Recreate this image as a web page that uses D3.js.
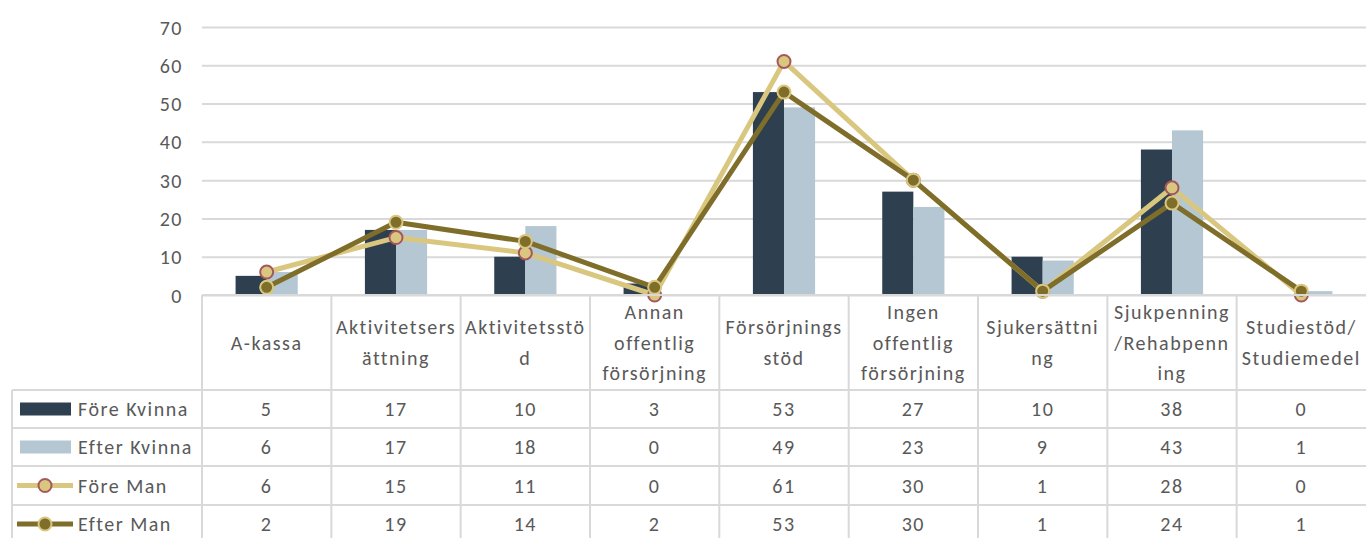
<!DOCTYPE html>
<html>
<head>
<meta charset="utf-8">
<script src="https://cdn.jsdelivr.net/npm/d3@7"></script>
<style>
  body { margin: 0; background: #fff; }
  svg text { font-family: Carlito, Calibri, Lato, sans-serif; fill: #595959; letter-spacing: 1.5px; }
</style>
</head>
<body>
<div id="chart"></div>
<script>
// Data
const categories = ["A-kassa", "Aktivitetsersättning", "Aktivitetsstöd",
  "Annan offentlig försörjning", "Försörjningsstöd", "Ingen offentlig försörjning",
  "Sjukersättning", "Sjukpenning/Rehabpenning", "Studiestöd/Studiemedel"];
// how the header cells wrap in the original
const catLines = [["A-kassa"], ["Aktivitetsers", "ättning"], ["Aktivitetsstö", "d"],
  ["Annan", "offentlig", "försörjning"], ["Försörjnings", "stöd"],
  ["Ingen", "offentlig", "försörjning"], ["Sjukersättni", "ng"],
  ["Sjukpenning", "/Rehabpenn", "ing"], ["Studiestöd/", "Studiemedel"]];
const foreKvinna = [5, 17, 10, 3, 53, 27, 10, 38, 0];
const efterKvinna = [6, 17, 18, 0, 49, 23, 9, 43, 1];
const foreMan = [6, 15, 11, 0, 61, 30, 1, 28, 0];
const efterMan = [2, 19, 14, 2, 53, 30, 1, 24, 1];
const yTicks = [0, 10, 20, 30, 40, 50, 60, 70];

const series = [
  {name: "Före Kvinna", values: foreKvinna, type: "bar", color: "#2e3f4f"},
  {name: "Efter Kvinna", values: efterKvinna, type: "bar", color: "#b4c7d3"},
  {name: "Före Man", values: foreMan, type: "line", color: "#dac77f", marker: "#dac77f", markerStroke: "#a5585c"},
  {name: "Efter Man", values: efterMan, type: "line", color: "#7f6e2a", marker: "#7f6e2a", markerStroke: "#dac77f"},
];

const W = 1366, H = 538;
const plotLeft = 202, plotRight = 1366, plotTop = 27, plotBottom = 295;
const rowY = [295, 390, 428, 466, 505, 543];
const grid = "#d9d9d9";
const fs = "20px";

const svg = d3.select("#chart").append("svg")
  .attr("width", W).attr("height", H);

const x = d3.scaleBand().domain(categories).range([plotLeft, plotRight]);
const xBar = d3.scaleBand().domain(["Före Kvinna", "Efter Kvinna"])
  .range([0, x.bandwidth()]).paddingInner(0).paddingOuter(1.08);
const y = d3.scaleLinear().domain([0, 70]).range([plotBottom, plotTop]);

// Y axis + gridlines
const yAxis = d3.axisLeft(y).tickValues(yTicks)
  .tickSize(-(plotRight - plotLeft)).tickPadding(19);
const gy = svg.append("g").attr("transform", "translate(" + plotLeft + ",0)").call(yAxis);
gy.select(".domain").remove();
gy.selectAll(".tick line").attr("stroke", grid).attr("stroke-width", 2);
gy.selectAll(".tick text").style("font-size", fs).attr("fill", "#595959").attr("dy", "0.35em");

// Bars
series.filter(function(s) { return s.type === "bar"; }).forEach(function(s) {
  svg.append("g").selectAll("rect")
    .data(s.values)
    .enter()
    .append("rect")
    .attr("x", function(d, i) { return x(categories[i]) + xBar(s.name); })
    .attr("y", function(d) { return y(d); })
    .attr("width", xBar.bandwidth())
    .attr("height", function(d) { return y(0) - y(d); })
    .attr("fill", s.color);
});

// Lines
const cx = function(i) { return x(categories[i]) + x.bandwidth() / 2; };
series.filter(function(s) { return s.type === "line"; }).forEach(function(s) {
  const line = d3.line()
    .x(function(d, i) { return cx(i); })
    .y(function(d) { return y(d); });
  svg.append("path")
    .datum(s.values)
    .attr("d", line)
    .attr("fill", "none")
    .attr("stroke", s.color)
    .attr("stroke-width", 5)
    .attr("stroke-linejoin", "round");
  svg.append("g").selectAll("circle")
    .data(s.values)
    .enter()
    .append("circle")
    .attr("cx", function(d, i) { return cx(i); })
    .attr("cy", function(d) { return y(d); })
    .attr("r", 6.5)
    .attr("fill", s.marker)
    .attr("stroke", s.markerStroke)
    .attr("stroke-width", 2);
});

// Data table
const table = svg.append("g");
// horizontal lines
rowY.forEach(function(yy, i) {
  table.append("line")
    .attr("x1", i === 0 ? plotLeft : 12).attr("x2", plotRight)
    .attr("y1", yy).attr("y2", yy)
    .attr("stroke", grid).attr("stroke-width", 2);
});
// vertical lines
table.append("line").attr("x1", 12).attr("x2", 12)
  .attr("y1", rowY[1]).attr("y2", H)
  .attr("stroke", grid).attr("stroke-width", 2);
categories.forEach(function(c) {
  table.append("line").attr("x1", x(c)).attr("x2", x(c))
    .attr("y1", rowY[0]).attr("y2", H)
    .attr("stroke", grid).attr("stroke-width", 2);
});

// header labels
const headMid = (rowY[0] + rowY[1]) / 2;
const lh = 30.5;
categories.forEach(function(c, i) {
  const lines = catLines[i];
  const t = table.append("text")
    .attr("text-anchor", "middle")
    .style("font-size", fs);
  lines.forEach(function(l, j) {
    t.append("tspan")
      .attr("x", x(c) + x.bandwidth() / 2)
      .attr("y", headMid + (j - (lines.length - 1) / 2) * lh)
      .attr("dy", "0.35em")
      .text(l);
  });
});

// value rows with legend keys
series.forEach(function(s, r) {
  const mid = (rowY[r + 1] + rowY[r + 2]) / 2;
  if (s.type === "bar") {
    table.append("rect").attr("x", 20).attr("y", mid - 6.5)
      .attr("width", 51).attr("height", 13).attr("fill", s.color);
  } else {
    table.append("line").attr("x1", 17).attr("x2", 73)
      .attr("y1", mid).attr("y2", mid)
      .attr("stroke", s.color).attr("stroke-width", 5);
    table.append("circle").attr("cx", 45).attr("cy", mid).attr("r", 6.5)
      .attr("fill", s.marker).attr("stroke", s.markerStroke).attr("stroke-width", 2);
  }
  table.append("text")
    .attr("x", 78).attr("y", mid).attr("dy", "0.35em")
    .style("font-size", fs)
    .text(s.name);
  s.values.forEach(function(v, i) {
    table.append("text")
      .attr("x", cx(i)).attr("y", mid).attr("dy", "0.35em")
      .attr("text-anchor", "middle")
      .style("font-size", fs)
      .text(v);
  });
});
</script>
</body>
</html>
